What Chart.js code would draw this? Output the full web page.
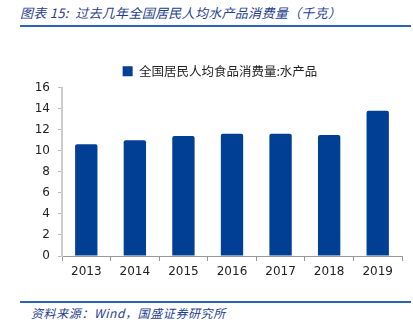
<!DOCTYPE html>
<html><head><meta charset="utf-8">
<script src="https://cdn.jsdelivr.net/npm/chart.js@4/dist/chart.umd.min.js"></script>
<style>
html,body{margin:0;padding:0;background:#fff;width:413px;height:325px;overflow:hidden;}
#title{position:absolute;left:20px;top:3px;font:italic 13px "Noto Sans CJK SC",sans-serif;color:#1f3f8f;white-space:nowrap;letter-spacing:0.3px;}
#rule1{position:absolute;left:20px;top:25px;width:391px;height:2px;background:#2b62b3;}
#rule2{position:absolute;left:20px;top:301px;width:391px;height:2px;background:#2b62b3;}
#foot{position:absolute;left:31px;top:304px;font:italic 12px "Noto Sans CJK SC",sans-serif;color:#1f3f8f;white-space:nowrap;letter-spacing:0.6px;}
#wrap{position:absolute;left:0;top:50px;width:413px;height:240px;}
</style></head><body>
<div id="title">图表 15:&nbsp;&nbsp;过去几年全国居民人均水产品消费量（千克）</div>
<div id="rule1"></div>
<div id="wrap"><canvas id="c"></canvas></div>
<div id="rule2"></div>
<div id="foot">资料来源：Wind，国盛证券研究所</div>
<script>
const categories = ['2013','2014','2015','2016','2017','2018','2019'];
const seriesName = '全国居民人均食品消费量:水产品';
const values = [10.6, 11.0, 11.4, 11.6, 11.6, 11.5, 13.8];
const yTicks = [0,2,4,6,8,10,12,14,16];

const shiftLegend = {
  id:'shiftLegend',
  afterLayout(chart){ const l = chart.legend; if(l){ l.left += 19; l.right += 19; } }
};

new Chart(document.getElementById('c'), {
  type:'bar',
  data:{labels:categories, datasets:[{label:seriesName, data:values, backgroundColor:'#003f94', borderColor:'#003f94', borderWidth:0, borderRadius:2, categoryPercentage:0.92, barPercentage:0.5}]},
  options:{
    responsive:true, maintainAspectRatio:false, animation:false,
    layout:{padding:{left:0,right:11,top:0,bottom:0}},
    plugins:{
      legend:{display:true, position:'top', labels:{font:{family:'"Noto Sans CJK SC"', size:12.5}, color:'#222', boxWidth:10, boxHeight:10, padding:15}},
      tooltip:{enabled:false}
    },
    scales:{
      x:{
        grid:{display:true, drawOnChartArea:false, drawTicks:true, tickLength:5, color:'#999', offset:true},
        border:{display:true, color:'#999', width:1},
        ticks:{font:{family:'"DejaVu Sans"', size:12}, color:'#222', padding:4},
        afterFit(s){ s.height = 34; }
      },
      y:{
        min:0, max:16,
        afterBuildTicks(s){ s.ticks = yTicks.map(v=>({value:v})); },
        grid:{display:true, drawOnChartArea:false, drawTicks:true, tickLength:4, color:'#bbb'},
        border:{display:true, color:'#ccc', width:2},
        ticks:{font:{family:'"DejaVu Sans"', size:12}, color:'#222', padding:8},
        afterFit(s){ s.width = 62; }
      }
    }
  },
  plugins:[shiftLegend]
});
</script>
</body></html>
